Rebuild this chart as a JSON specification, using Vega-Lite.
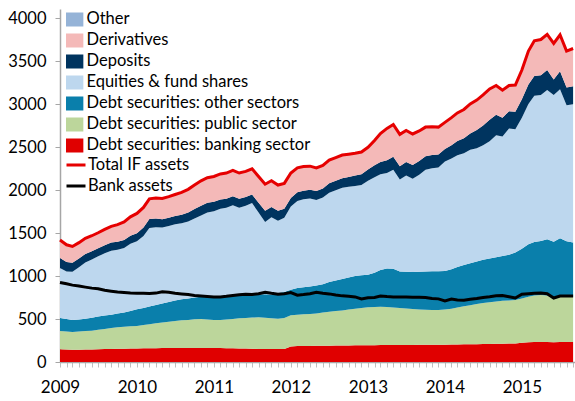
{
  "$schema": "https://vega.github.io/schema/vega-lite/v6.json",
  "width": 515,
  "height": 353,
  "autosize": {"type": "none"},
  "padding": {"left": 60, "top": 9, "right": 0, "bottom": 39},
  "config": {"view": {"stroke": null}, "font": "Lato"},
  "data": {"values": [
    {"d":"2009-01-01","a_bank":148,"b_pub":212,"c_oth":152,"d_eq":583,"e_dep":115,"f_der":200,"g_other":10,"total":1420,"banka":925},
    {"d":"2009-02-01","a_bank":145,"b_pub":210,"c_oth":145,"d_eq":555,"e_dep":110,"f_der":190,"g_other":10,"total":1365,"banka":910},
    {"d":"2009-03-01","a_bank":143,"b_pub":207,"c_oth":140,"d_eq":560,"e_dep":105,"f_der":180,"g_other":10,"total":1345,"banka":895},
    {"d":"2009-04-01","a_bank":143,"b_pub":212,"c_oth":140,"d_eq":608,"e_dep":102,"f_der":175,"g_other":10,"total":1390,"banka":885},
    {"d":"2009-05-01","a_bank":145,"b_pub":215,"c_oth":145,"d_eq":653,"e_dep":100,"f_der":172,"g_other":10,"total":1440,"banka":872},
    {"d":"2009-06-01","a_bank":146,"b_pub":219,"c_oth":150,"d_eq":677,"e_dep":98,"f_der":170,"g_other":10,"total":1470,"banka":860},
    {"d":"2009-07-01","a_bank":148,"b_pub":227,"c_oth":155,"d_eq":700,"e_dep":95,"f_der":170,"g_other":10,"total":1505,"banka":852},
    {"d":"2009-08-01","a_bank":150,"b_pub":235,"c_oth":155,"d_eq":725,"e_dep":95,"f_der":175,"g_other":10,"total":1545,"banka":835},
    {"d":"2009-09-01","a_bank":152,"b_pub":243,"c_oth":155,"d_eq":746,"e_dep":94,"f_der":180,"g_other":10,"total":1580,"banka":825},
    {"d":"2009-10-01","a_bank":154,"b_pub":251,"c_oth":160,"d_eq":741,"e_dep":94,"f_der":190,"g_other":10,"total":1600,"banka":815},
    {"d":"2009-11-01","a_bank":155,"b_pub":255,"c_oth":165,"d_eq":752,"e_dep":93,"f_der":200,"g_other":10,"total":1630,"banka":808},
    {"d":"2009-12-01","a_bank":157,"b_pub":258,"c_oth":180,"d_eq":782,"e_dep":93,"f_der":210,"g_other":10,"total":1690,"banka":802},
    {"d":"2010-01-01","a_bank":158,"b_pub":261,"c_oth":196,"d_eq":792,"e_dep":93,"f_der":220,"g_other":10,"total":1730,"banka":800},
    {"d":"2010-02-01","a_bank":160,"b_pub":270,"c_oth":200,"d_eq":837,"e_dep":98,"f_der":225,"g_other":10,"total":1800,"banka":800},
    {"d":"2010-03-01","a_bank":160,"b_pub":280,"c_oth":205,"d_eq":915,"e_dep":105,"f_der":225,"g_other":10,"total":1900,"banka":798},
    {"d":"2010-04-01","a_bank":161,"b_pub":289,"c_oth":215,"d_eq":905,"e_dep":100,"f_der":230,"g_other":10,"total":1910,"banka":802},
    {"d":"2010-05-01","a_bank":162,"b_pub":298,"c_oth":220,"d_eq":885,"e_dep":98,"f_der":232,"g_other":10,"total":1905,"banka":818},
    {"d":"2010-06-01","a_bank":162,"b_pub":308,"c_oth":230,"d_eq":884,"e_dep":96,"f_der":235,"g_other":10,"total":1925,"banka":812},
    {"d":"2010-07-01","a_bank":163,"b_pub":314,"c_oth":238,"d_eq":890,"e_dep":95,"f_der":240,"g_other":10,"total":1950,"banka":800},
    {"d":"2010-08-01","a_bank":163,"b_pub":322,"c_oth":245,"d_eq":885,"e_dep":100,"f_der":250,"g_other":10,"total":1975,"banka":792},
    {"d":"2010-09-01","a_bank":163,"b_pub":327,"c_oth":250,"d_eq":895,"e_dep":105,"f_der":260,"g_other":10,"total":2010,"banka":785},
    {"d":"2010-10-01","a_bank":163,"b_pub":335,"c_oth":252,"d_eq":920,"e_dep":110,"f_der":270,"g_other":10,"total":2060,"banka":775},
    {"d":"2010-11-01","a_bank":164,"b_pub":336,"c_oth":260,"d_eq":945,"e_dep":115,"f_der":280,"g_other":10,"total":2110,"banka":768},
    {"d":"2010-12-01","a_bank":163,"b_pub":332,"c_oth":273,"d_eq":973,"e_dep":112,"f_der":282,"g_other":10,"total":2145,"banka":762},
    {"d":"2011-01-01","a_bank":162,"b_pub":328,"c_oth":280,"d_eq":985,"e_dep":110,"f_der":285,"g_other":10,"total":2160,"banka":757},
    {"d":"2011-02-01","a_bank":162,"b_pub":328,"c_oth":280,"d_eq":1014,"e_dep":108,"f_der":288,"g_other":10,"total":2190,"banka":758},
    {"d":"2011-03-01","a_bank":161,"b_pub":334,"c_oth":277,"d_eq":1023,"e_dep":105,"f_der":290,"g_other":10,"total":2200,"banka":765},
    {"d":"2011-04-01","a_bank":160,"b_pub":340,"c_oth":274,"d_eq":1051,"e_dep":105,"f_der":290,"g_other":10,"total":2230,"banka":775},
    {"d":"2011-05-01","a_bank":158,"b_pub":350,"c_oth":267,"d_eq":1022,"e_dep":103,"f_der":290,"g_other":10,"total":2200,"banka":782},
    {"d":"2011-06-01","a_bank":156,"b_pub":356,"c_oth":267,"d_eq":1039,"e_dep":102,"f_der":290,"g_other":10,"total":2220,"banka":790},
    {"d":"2011-07-01","a_bank":154,"b_pub":364,"c_oth":267,"d_eq":1065,"e_dep":100,"f_der":290,"g_other":10,"total":2250,"banka":785},
    {"d":"2011-08-01","a_bank":152,"b_pub":368,"c_oth":270,"d_eq":950,"e_dep":115,"f_der":295,"g_other":10,"total":2160,"banka":795},
    {"d":"2011-09-01","a_bank":151,"b_pub":364,"c_oth":275,"d_eq":840,"e_dep":130,"f_der":300,"g_other":10,"total":2070,"banka":812},
    {"d":"2011-10-01","a_bank":151,"b_pub":359,"c_oth":275,"d_eq":900,"e_dep":120,"f_der":295,"g_other":10,"total":2110,"banka":800},
    {"d":"2011-11-01","a_bank":151,"b_pub":354,"c_oth":300,"d_eq":840,"e_dep":115,"f_der":290,"g_other":10,"total":2060,"banka":790},
    {"d":"2011-12-01","a_bank":152,"b_pub":360,"c_oth":302,"d_eq":866,"e_dep":105,"f_der":285,"g_other":10,"total":2080,"banka":795},
    {"d":"2012-01-01","a_bank":180,"b_pub":365,"c_oth":295,"d_eq":970,"e_dep":100,"f_der":280,"g_other":10,"total":2200,"banka":808},
    {"d":"2012-02-01","a_bank":185,"b_pub":365,"c_oth":311,"d_eq":1014,"e_dep":100,"f_der":275,"g_other":10,"total":2260,"banka":778},
    {"d":"2012-03-01","a_bank":186,"b_pub":369,"c_oth":315,"d_eq":1025,"e_dep":100,"f_der":270,"g_other":10,"total":2275,"banka":785},
    {"d":"2012-04-01","a_bank":187,"b_pub":373,"c_oth":320,"d_eq":1023,"e_dep":102,"f_der":265,"g_other":10,"total":2280,"banka":795},
    {"d":"2012-05-01","a_bank":188,"b_pub":377,"c_oth":325,"d_eq":996,"e_dep":104,"f_der":260,"g_other":10,"total":2260,"banka":812},
    {"d":"2012-06-01","a_bank":189,"b_pub":386,"c_oth":330,"d_eq":1009,"e_dep":106,"f_der":260,"g_other":10,"total":2290,"banka":800},
    {"d":"2012-07-01","a_bank":190,"b_pub":395,"c_oth":345,"d_eq":1042,"e_dep":108,"f_der":260,"g_other":10,"total":2350,"banka":793},
    {"d":"2012-08-01","a_bank":191,"b_pub":402,"c_oth":357,"d_eq":1050,"e_dep":110,"f_der":260,"g_other":10,"total":2380,"banka":780},
    {"d":"2012-09-01","a_bank":192,"b_pub":408,"c_oth":365,"d_eq":1065,"e_dep":110,"f_der":260,"g_other":10,"total":2410,"banka":770},
    {"d":"2012-10-01","a_bank":193,"b_pub":417,"c_oth":375,"d_eq":1055,"e_dep":115,"f_der":255,"g_other":10,"total":2420,"banka":765},
    {"d":"2012-11-01","a_bank":194,"b_pub":426,"c_oth":380,"d_eq":1050,"e_dep":120,"f_der":250,"g_other":10,"total":2430,"banka":758},
    {"d":"2012-12-01","a_bank":195,"b_pub":435,"c_oth":380,"d_eq":1050,"e_dep":125,"f_der":250,"g_other":10,"total":2445,"banka":735},
    {"d":"2013-01-01","a_bank":196,"b_pub":442,"c_oth":377,"d_eq":1095,"e_dep":130,"f_der":250,"g_other":10,"total":2500,"banka":748},
    {"d":"2013-02-01","a_bank":196,"b_pub":444,"c_oth":400,"d_eq":1110,"e_dep":140,"f_der":280,"g_other":10,"total":2580,"banka":752},
    {"d":"2013-03-01","a_bank":197,"b_pub":445,"c_oth":428,"d_eq":1115,"e_dep":145,"f_der":320,"g_other":10,"total":2660,"banka":768},
    {"d":"2013-04-01","a_bank":197,"b_pub":443,"c_oth":450,"d_eq":1110,"e_dep":150,"f_der":360,"g_other":10,"total":2720,"banka":762},
    {"d":"2013-05-01","a_bank":198,"b_pub":437,"c_oth":450,"d_eq":1153,"e_dep":152,"f_der":365,"g_other":10,"total":2765,"banka":758},
    {"d":"2013-06-01","a_bank":198,"b_pub":430,"c_oth":427,"d_eq":1070,"e_dep":155,"f_der":360,"g_other":10,"total":2650,"banka":757},
    {"d":"2013-07-01","a_bank":199,"b_pub":423,"c_oth":428,"d_eq":1122,"e_dep":158,"f_der":355,"g_other":10,"total":2695,"banka":756},
    {"d":"2013-08-01","a_bank":199,"b_pub":419,"c_oth":430,"d_eq":1087,"e_dep":160,"f_der":350,"g_other":10,"total":2655,"banka":755},
    {"d":"2013-09-01","a_bank":200,"b_pub":412,"c_oth":438,"d_eq":1130,"e_dep":160,"f_der":340,"g_other":10,"total":2690,"banka":753},
    {"d":"2013-10-01","a_bank":200,"b_pub":408,"c_oth":447,"d_eq":1182,"e_dep":158,"f_der":330,"g_other":10,"total":2735,"banka":750},
    {"d":"2013-11-01","a_bank":201,"b_pub":404,"c_oth":453,"d_eq":1197,"e_dep":155,"f_der":320,"g_other":10,"total":2740,"banka":740},
    {"d":"2013-12-01","a_bank":201,"b_pub":404,"c_oth":453,"d_eq":1207,"e_dep":150,"f_der":310,"g_other":10,"total":2735,"banka":735},
    {"d":"2014-01-01","a_bank":202,"b_pub":408,"c_oth":450,"d_eq":1275,"e_dep":145,"f_der":300,"g_other":10,"total":2790,"banka":712},
    {"d":"2014-02-01","a_bank":204,"b_pub":416,"c_oth":460,"d_eq":1290,"e_dep":155,"f_der":310,"g_other":10,"total":2845,"banka":733},
    {"d":"2014-03-01","a_bank":205,"b_pub":430,"c_oth":470,"d_eq":1302,"e_dep":165,"f_der":318,"g_other":10,"total":2900,"banka":722},
    {"d":"2014-04-01","a_bank":206,"b_pub":442,"c_oth":482,"d_eq":1300,"e_dep":175,"f_der":325,"g_other":10,"total":2940,"banka":720},
    {"d":"2014-05-01","a_bank":207,"b_pub":453,"c_oth":490,"d_eq":1320,"e_dep":190,"f_der":335,"g_other":10,"total":3005,"banka":730},
    {"d":"2014-06-01","a_bank":208,"b_pub":467,"c_oth":495,"d_eq":1320,"e_dep":210,"f_der":340,"g_other":10,"total":3050,"banka":740},
    {"d":"2014-07-01","a_bank":210,"b_pub":476,"c_oth":504,"d_eq":1335,"e_dep":230,"f_der":345,"g_other":10,"total":3110,"banka":752},
    {"d":"2014-08-01","a_bank":211,"b_pub":484,"c_oth":510,"d_eq":1365,"e_dep":250,"f_der":350,"g_other":10,"total":3180,"banka":760},
    {"d":"2014-09-01","a_bank":212,"b_pub":493,"c_oth":515,"d_eq":1420,"e_dep":240,"f_der":330,"g_other":10,"total":3220,"banka":770},
    {"d":"2014-10-01","a_bank":213,"b_pub":499,"c_oth":523,"d_eq":1390,"e_dep":220,"f_der":310,"g_other":10,"total":3165,"banka":775},
    {"d":"2014-11-01","a_bank":214,"b_pub":501,"c_oth":535,"d_eq":1470,"e_dep":200,"f_der":290,"g_other":10,"total":3220,"banka":760},
    {"d":"2014-12-01","a_bank":216,"b_pub":505,"c_oth":554,"d_eq":1435,"e_dep":205,"f_der":300,"g_other":10,"total":3225,"banka":745},
    {"d":"2015-01-01","a_bank":225,"b_pub":515,"c_oth":580,"d_eq":1525,"e_dep":215,"f_der":330,"g_other":10,"total":3400,"banka":790},
    {"d":"2015-02-01","a_bank":230,"b_pub":530,"c_oth":610,"d_eq":1635,"e_dep":225,"f_der":380,"g_other":10,"total":3620,"banka":795},
    {"d":"2015-03-01","a_bank":233,"b_pub":542,"c_oth":621,"d_eq":1704,"e_dep":230,"f_der":400,"g_other":10,"total":3740,"banka":800},
    {"d":"2015-04-01","a_bank":233,"b_pub":546,"c_oth":631,"d_eq":1698,"e_dep":232,"f_der":405,"g_other":10,"total":3755,"banka":802},
    {"d":"2015-05-01","a_bank":232,"b_pub":543,"c_oth":655,"d_eq":1738,"e_dep":232,"f_der":405,"g_other":10,"total":3815,"banka":795},
    {"d":"2015-06-01","a_bank":231,"b_pub":529,"c_oth":640,"d_eq":1710,"e_dep":180,"f_der":410,"g_other":10,"total":3710,"banka":745},
    {"d":"2015-07-01","a_bank":232,"b_pub":524,"c_oth":686,"d_eq":1733,"e_dep":210,"f_der":415,"g_other":10,"total":3810,"banka":768},
    {"d":"2015-08-01","a_bank":233,"b_pub":523,"c_oth":649,"d_eq":1585,"e_dep":205,"f_der":415,"g_other":10,"total":3620,"banka":768},
    {"d":"2015-09-01","a_bank":234,"b_pub":522,"c_oth":634,"d_eq":1610,"e_dep":210,"f_der":430,"g_other":10,"total":3650,"banka":768}
  ]},
  "encoding": {
    "x": {
      "field": "d", "type": "temporal",
      "scale": {"type": "utc", "domain": [{"year": 2009, "month": 1, "date": 1, "utc": true}, {"year": 2015, "month": 9, "date": 10, "utc": true}]},
      "axis": {
        "title": null, "grid": false,
        "tickCount": {"interval": "month", "step": 1},
        "labelExpr": "utcmonth(datum.value) == 0 ? utcFormat(datum.value, '%Y') : ''",
        "labelOverlap": false, "labelFlush": false,
        "tickSize": 5, "tickColor": "#bfbfbf", "domainColor": "#a6a6a6", "domainWidth": 1.5,
        "labelFont": "Lato", "labelFontSize": 17, "labelColor": "#000000", "labelPadding": 12
      }
    }
  },
  "layer": [
    {
      "transform": [{"fold": ["a_bank", "b_pub", "c_oth", "d_eq", "e_dep", "f_der", "g_other"], "as": ["key", "value"]}],
      "mark": {"type": "area", "opacity": 1, "interpolate": "linear"},
      "encoding": {
        "y": {
          "field": "value", "type": "quantitative", "stack": "zero",
          "scale": {"domain": [0, 4110], "nice": false, "zero": true},
          "axis": {
            "title": null, "grid": false, "format": "d", "values": [0, 500, 1000, 1500, 2000, 2500, 3000, 3500, 4000],
            "domainColor": "#a6a6a6", "domainWidth": 1.5, "tickColor": "#a6a6a6", "tickSize": 5,
            "labelFont": "Lato", "labelFontSize": 16.5, "labelColor": "#000000", "labelPadding": 9
          }
        },
        "order": {"field": "key", "sort": "ascending"},
        "color": {
          "field": "key", "type": "nominal",
          "scale": {
            "domain": ["g_other", "f_der", "e_dep", "d_eq", "c_oth", "b_pub", "a_bank"],
            "range": ["#95b3d7", "#f4b9b8", "#00345f", "#bdd7ee", "#0a7fab", "#bcd69b", "#e00000"]
          },
          "legend": {
            "orient": "none", "legendX": 6, "legendY": 0, "title": null, "padding": 0,
            "symbolType": "M-1.3,-1H1.3V1H-1.3Z", "symbolSize": 196, "symbolStrokeWidth": 0, "symbolOpacity": 1,
            "labelFont": "Lato", "labelFontSize": 16.5, "labelColor": "#000000", "labelOffset": 4, "labelLimit": 400,
            "clipHeight": 20.8, "rowPadding": 0,
            "labelExpr": "datum.value == 'g_other' ? 'Other' : datum.value == 'f_der' ? 'Derivatives' : datum.value == 'e_dep' ? 'Deposits' : datum.value == 'd_eq' ? 'Equities & fund shares' : datum.value == 'c_oth' ? 'Debt securities: other sectors' : datum.value == 'b_pub' ? 'Debt securities: public sector' : 'Debt securities: banking sector'"
          }
        }
      }
    },
    {
      "transform": [{"fold": ["total", "banka"], "as": ["line", "v"]}],
      "mark": {"type": "line", "strokeWidth": 3, "interpolate": "linear"},
      "encoding": {
        "y": {"field": "v", "type": "quantitative"},
        "color": {
          "field": "line", "type": "nominal",
          "scale": {"domain": ["total", "banka"], "range": ["#e60000", "#000000"]},
          "legend": {
            "orient": "none", "legendX": 5, "legendY": 145.6, "title": null, "padding": 0,
            "symbolType": "stroke", "symbolSize": 361, "symbolStrokeWidth": 3,
            "labelFont": "Lato", "labelFontSize": 16.5, "labelColor": "#000000", "labelOffset": 1, "labelLimit": 400,
            "clipHeight": 20.8, "rowPadding": 0,
            "labelExpr": "datum.value == 'total' ? 'Total IF assets' : 'Bank assets'"
          }
        }
      }
    },
    {
      "data": {"values": [{}]},
      "mark": {"type": "rule", "color": "#d9d9d9", "strokeWidth": 2},
      "encoding": {"y": {"datum": 4110}}
    }
  ],
  "resolve": {"scale": {"color": "independent"}, "legend": {"color": "independent"}}
}
